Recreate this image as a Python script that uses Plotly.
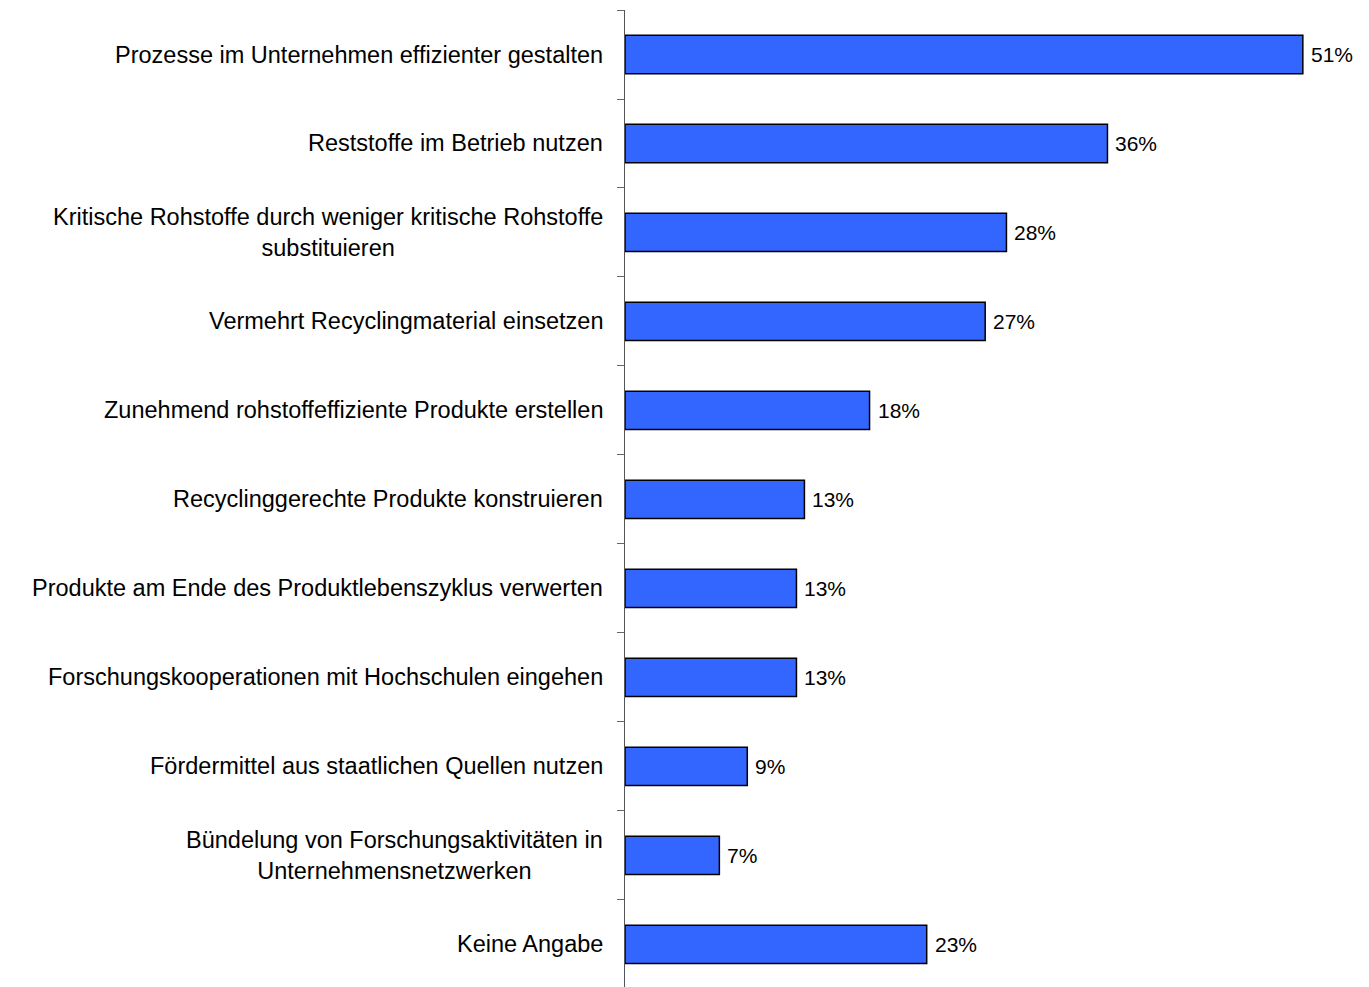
import plotly.graph_objects as go

categories = [
    "Prozesse im Unternehmen effizienter gestalten",
    "Reststoffe im Betrieb nutzen",
    "Kritische Rohstoffe durch weniger kritische Rohstoffe<br>substituieren",
    "Vermehrt Recyclingmaterial einsetzen",
    "Zunehmend rohstoffeffiziente Produkte erstellen",
    "Recyclinggerechte Produkte konstruieren",
    "Produkte am Ende des Produktlebenszyklus verwerten",
    "Forschungskooperationen mit Hochschulen eingehen",
    "Fördermittel aus staatlichen Quellen nutzen",
    "Bündelung von Forschungsaktivitäten in<br>Unternehmensnetzwerken",
    "Keine Angabe",
]
values = [51.0, 36.3, 28.7, 27.1, 18.4, 13.5, 12.9, 12.9, 9.2, 7.1, 22.7]
value_labels = ["51%", "36%", "28%", "27%", "18%", "13%", "13%", "13%", "9%", "7%", "23%"]

positions = list(range(len(categories)))
FONT = "Liberation Sans, Arial, sans-serif"

fig = go.Figure()
fig.add_trace(go.Bar(
    x=values,
    y=positions,
    orientation="h",
    width=0.43,
    marker=dict(color="#3366FF", line=dict(color="#000000", width=1.5)),
    hoverinfo="skip",
))

annotations = []
for p, cat, v, lab in zip(positions, categories, values, value_labels):
    annotations.append(dict(
        x=0, xref="paper", y=p, yref="y", text=cat, showarrow=False,
        xanchor="right", yanchor="middle", align="center", xshift=-20,
        font=dict(family=FONT, size=23.5, color="#000000"),
    ))
    annotations.append(dict(
        x=v, xref="x", y=p, yref="y", text=lab, showarrow=False,
        xanchor="left", yanchor="middle", xshift=6,
        font=dict(family=FONT, size=21, color="#000000"),
    ))

n = len(categories)
fig.update_layout(
    width=1361, height=979,
    margin=dict(l=617, r=13, t=2, b=0),
    paper_bgcolor="white", plot_bgcolor="white",
    showlegend=False,
    annotations=annotations,
    xaxis=dict(range=[0, 55], visible=False, fixedrange=True),
    yaxis=dict(
        range=[n - 0.5 - 0.022, -0.5],
        tickvals=[i - 0.5 for i in range(n)],
        ticktext=["" for _ in range(n)],
        ticks="outside", ticklen=7, tickcolor="#666666", tickwidth=1,
        showline=True, linecolor="#555555", linewidth=1,
        showgrid=False, zeroline=False, fixedrange=True,
    ),
)

fig.write_html("out.html")
